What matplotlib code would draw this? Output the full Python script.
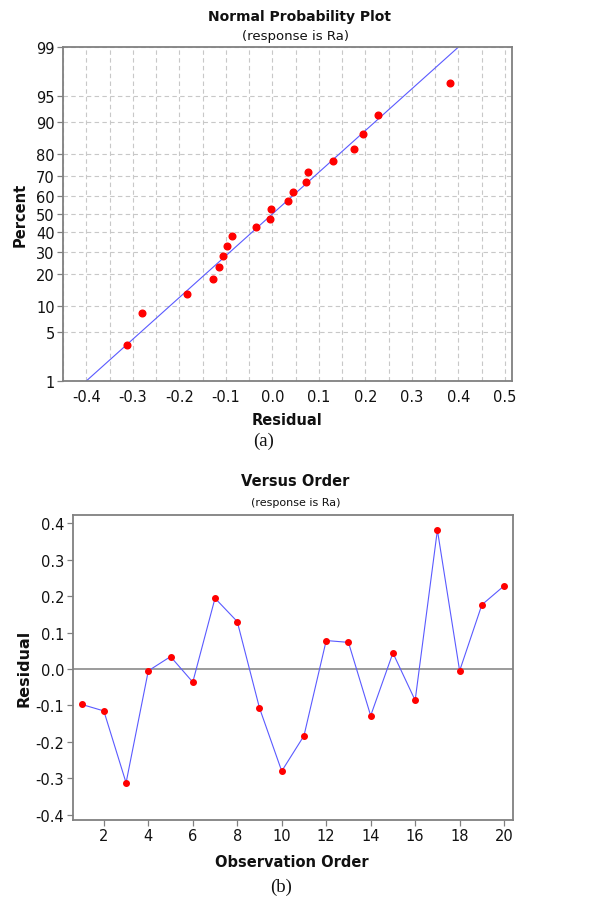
from statistics import NormalDist

import numpy as np
import matplotlib
matplotlib.use("Agg")
import matplotlib.pyplot as plt

# ----------------------------------------------------------------------
# Data
# ----------------------------------------------------------------------
# residuals in observation order (panel b)
observation = list(range(1, 21))
residuals = [-0.097, -0.115, -0.312, -0.005, 0.034, -0.036, 0.194, 0.130,
             -0.107, -0.280, -0.183, 0.078, 0.073, -0.128, 0.044, -0.086,
             0.381, -0.005, 0.176, 0.228]

# normal probability plot (panel a): sorted residuals vs percent
prob_residual = [-0.312, -0.280, -0.183, -0.128, -0.115, -0.107, -0.097, -0.086,
                 -0.036, -0.005, -0.004, 0.034, 0.044, 0.073, 0.076, 0.130,
                 0.176, 0.194, 0.228, 0.381]
prob_percent = [3.4, 8.3, 13.2, 18.1, 23.0, 27.9, 32.8, 37.7, 42.6, 47.5,
                52.5, 57.4, 62.3, 67.2, 72.1, 77.0, 81.9, 86.8, 91.7, 96.6]

# fitted reference line (two ends)
fit_residual = [-0.40, 0.40]
fit_percent = [1, 99]

percent_ticks = [1, 5, 10, 20, 30, 40, 50, 60, 70, 80, 90, 95, 99]
residual_ticks_a = [-0.4, -0.3, -0.2, -0.1, 0.0, 0.1, 0.2, 0.3, 0.4, 0.5]
residual_ticks_b = [-0.4, -0.3, -0.2, -0.1, 0.0, 0.1, 0.2, 0.3, 0.4]
order_ticks = [2, 4, 6, 8, 10, 12, 14, 16, 18, 20]

# ----------------------------------------------------------------------
# Style
# ----------------------------------------------------------------------
SPINE = "#808080"
GRID = "#c8c8c8"
BLUE = "#5a5aff"
RED = "#ff0000"
TXT = "#111111"

plt.rcParams["font.family"] = ["DejaVu Sans"]

_nd = NormalDist()


def pct_to_z(p):
    p = np.clip(np.asarray(p, dtype=float), 1e-6, 100 - 1e-6)
    return np.vectorize(lambda v: _nd.inv_cdf(v / 100.0), otypes=[float])(p)


def z_to_pct(z):
    z = np.asarray(z, dtype=float)
    return np.vectorize(lambda v: _nd.cdf(v) * 100.0, otypes=[float])(z)


def style_axes(ax):
    for s in ax.spines.values():
        s.set_color(SPINE)
        s.set_linewidth(1.3)
    ax.tick_params(direction="out", length=4, width=0.9, color=SPINE,
                   labelsize=10.5, labelcolor=TXT, pad=2)


fig = plt.figure(figsize=(5.89, 9.04), dpi=100)
W, H = 589.0, 904.0

# ---------------- panel (a): normal probability plot ----------------
ax1 = fig.add_axes([63 / W, 1 - 382 / H, 449 / W, 334 / H])
ax1.set_yscale("function", functions=(pct_to_z, z_to_pct))
ax1.set_xlim(-0.45, 0.515)
ax1.set_ylim(1, 99)
ax1.set_yticks(percent_ticks)
ax1.set_yticklabels([str(t) for t in percent_ticks])
ax1.yaxis.set_minor_locator(matplotlib.ticker.NullLocator())
ax1.set_xticks(residual_ticks_a)
ax1.set_xticklabels([f"{t:.1f}" for t in residual_ticks_a])
ax1.set_xticks(np.arange(-0.45, 0.5, 0.1), minor=True)
ax1.grid(True, which="both", axis="x", color=GRID, linestyle=(0, (4, 3)), linewidth=0.8)
ax1.grid(True, which="major", axis="y", color=GRID, linestyle=(0, (4, 3)), linewidth=0.8)
ax1.set_axisbelow(True)
style_axes(ax1)
ax1.tick_params(axis="x", which="both", length=0, pad=6)

ax1.plot(fit_residual, fit_percent, color=BLUE, linewidth=0.8, zorder=2)
ax1.plot(prob_residual, prob_percent, linestyle="none", marker="o",
         markersize=4.8, color=RED, zorder=3)

fig.text(299 / W, 1 - 17 / H, "Normal Probability Plot", ha="center", va="center",
         fontsize=10, fontweight="bold", color=TXT)
fig.text(295 / W, 1 - 36.5 / H, "(response is Ra)", ha="center", va="center",
         fontsize=9.5, color=TXT)
fig.text(287 / W, 1 - 421 / H, "Residual", ha="center", va="center",
         fontsize=10.5, fontweight="bold", color=TXT)
fig.text(20 / W, 1 - 215 / H, "Percent", ha="center", va="center", rotation=90,
         fontsize=10.5, fontweight="bold", color=TXT)
fig.text(264 / W, 1 - 441 / H, "(a)", ha="center", va="center",
         fontsize=13.5, family="Liberation Serif", color=TXT)

# ---------------- panel (b): versus order ----------------
ax2 = fig.add_axes([72.7 / W, 1 - 821 / H, 440.3 / W, 305.3 / H])
ax2.set_xlim(0.6, 20.4)
ax2.set_ylim(-0.414, 0.423)
ax2.set_xticks(order_ticks)
ax2.set_yticks(residual_ticks_b)
ax2.set_yticklabels([f"{t:.1f}" for t in residual_ticks_b])
style_axes(ax2)

ax2.axhline(0, color="#8a8a8a", linewidth=1.2, zorder=1)
ax2.plot(observation, residuals, color=BLUE, linewidth=0.8, zorder=2)
ax2.plot(observation, residuals, linestyle="none", marker="o",
         markersize=4, color=RED, zorder=3)

fig.text(295 / W, 1 - 482 / H, "Versus Order", ha="center", va="center",
         fontsize=10.5, fontweight="bold", color=TXT)
fig.text(296 / W, 1 - 503 / H, "(response is Ra)", ha="center", va="center",
         fontsize=8, color=TXT)
fig.text(292 / W, 1 - 863 / H, "Observation Order", ha="center", va="center",
         fontsize=10.5, fontweight="bold", color=TXT)
fig.text(24 / W, 1 - 668 / H, "Residual", ha="center", va="center", rotation=90,
         fontsize=11.5, fontweight="bold", color=TXT)
fig.text(281 / W, 1 - 887 / H, "(b)", ha="center", va="center",
         fontsize=13.5, family="Liberation Serif", color=TXT)

fig.savefig("out.png", dpi=100, facecolor="white")
